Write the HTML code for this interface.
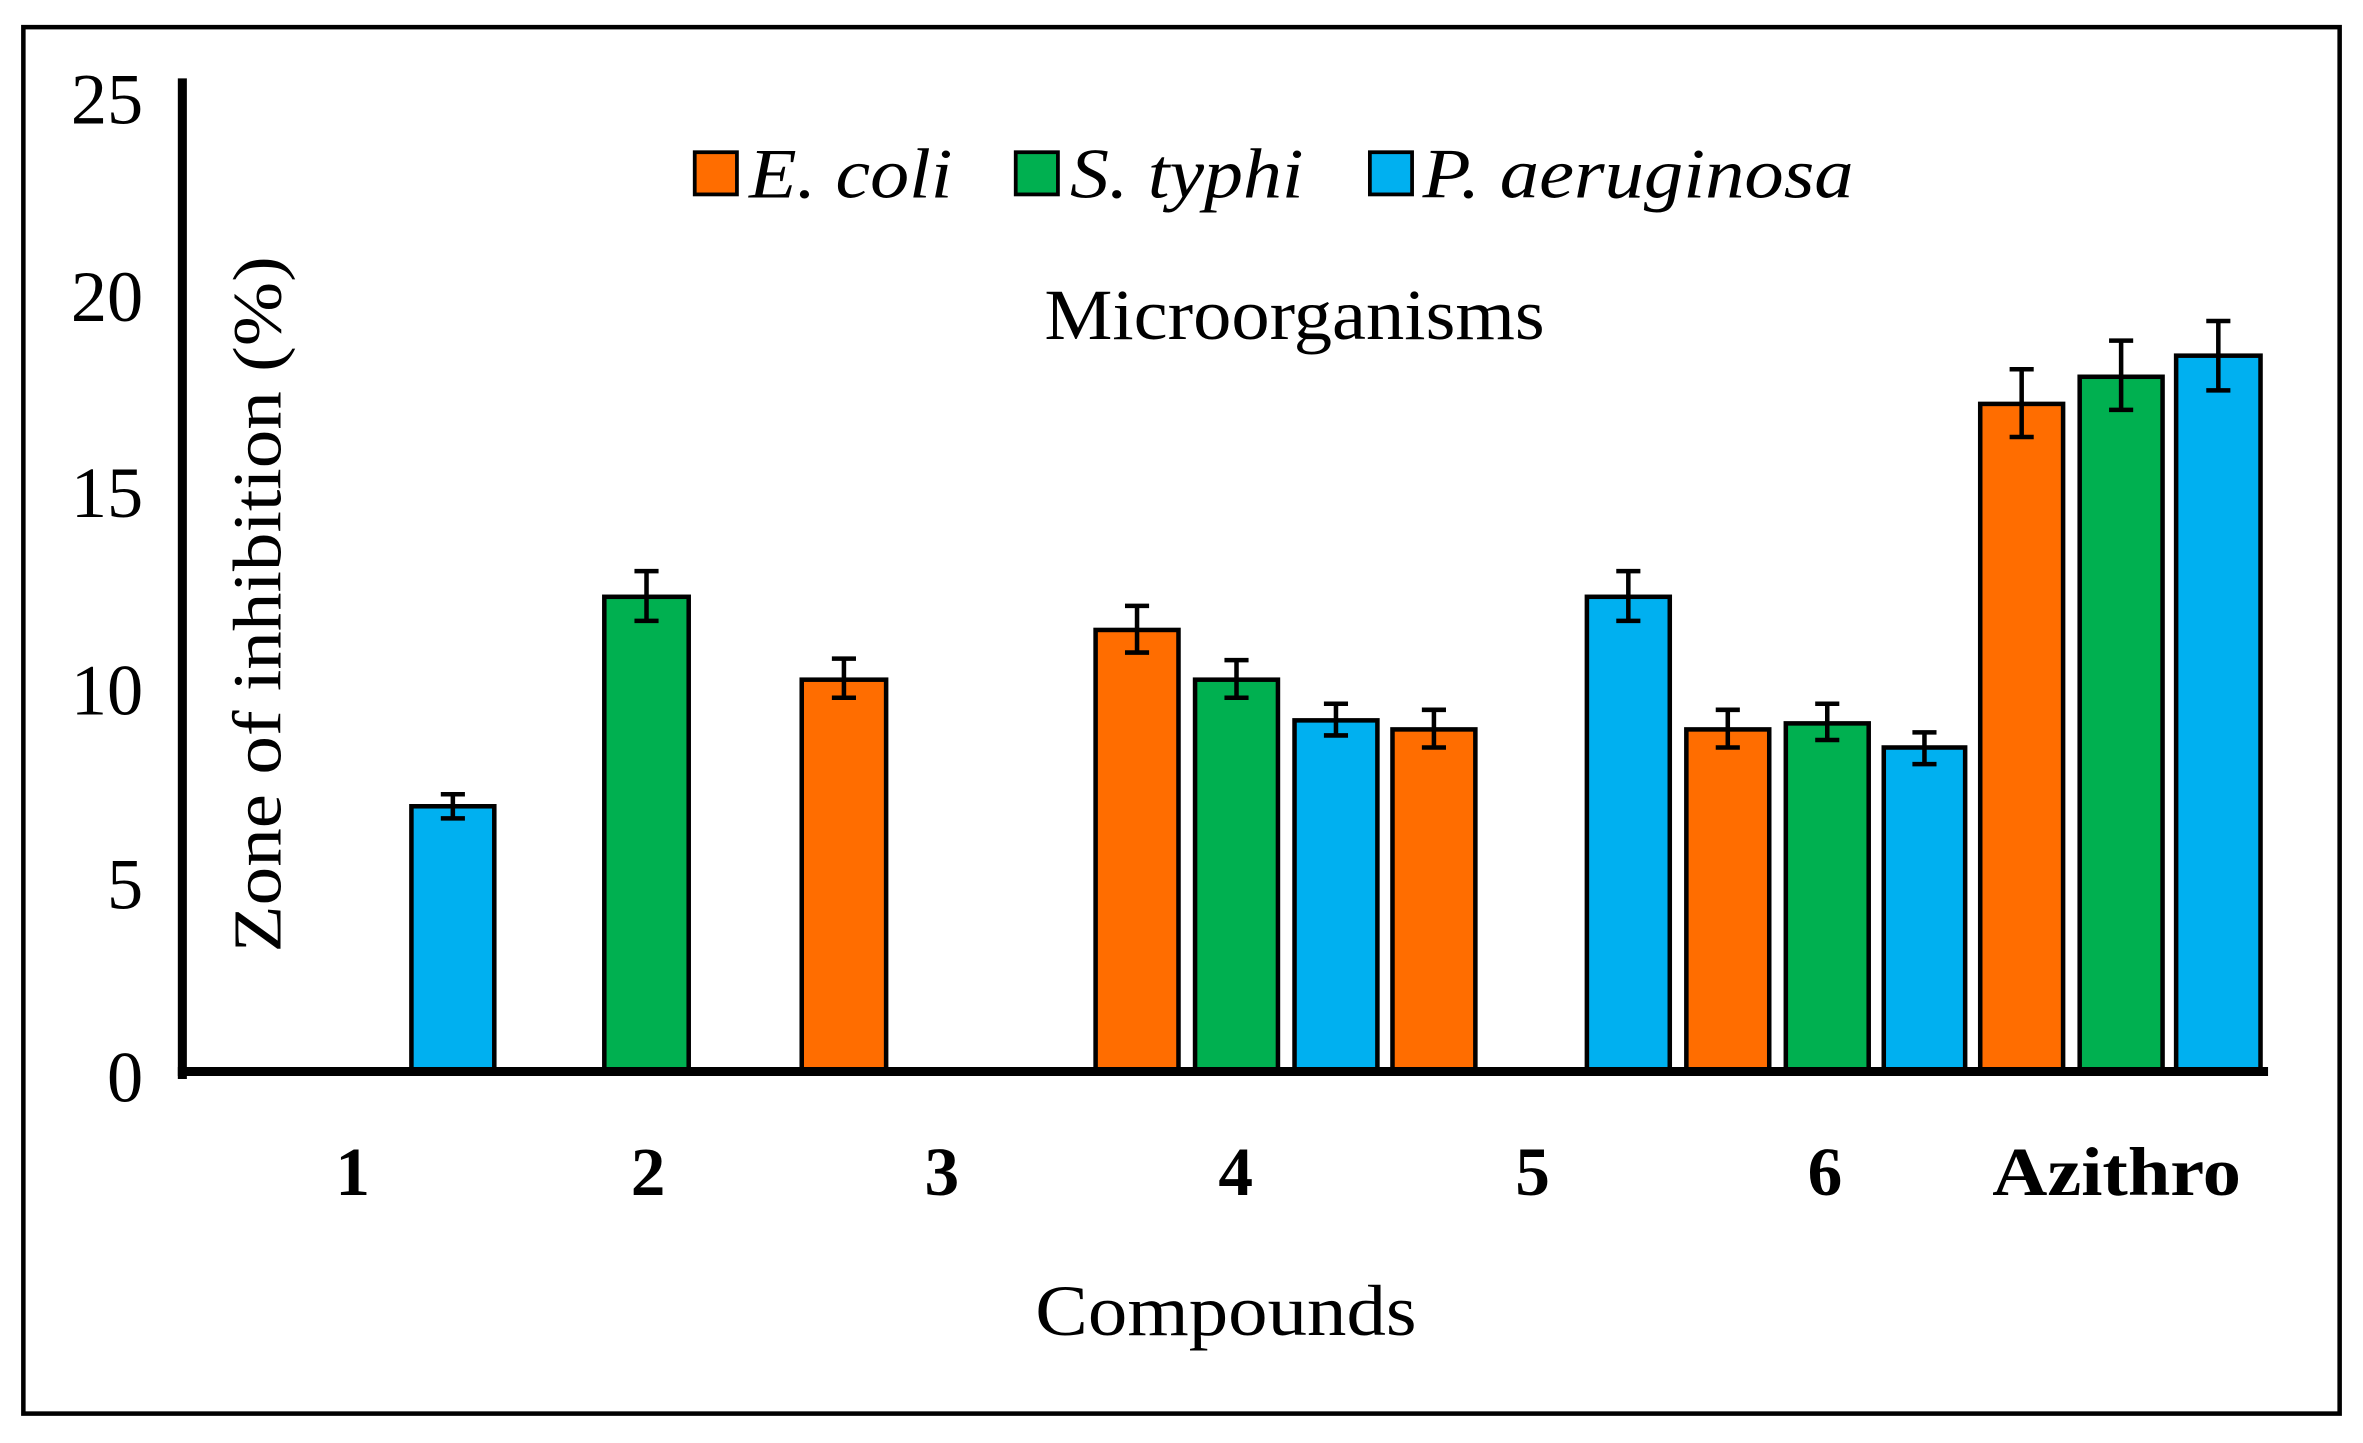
<!DOCTYPE html>
<html><head><meta charset="utf-8"><style>html,body{margin:0;padding:0;background:#fff}svg{display:block}</style></head>
<body>
<svg width="2363" height="1443" viewBox="0 0 1568 957.5" xmlns="http://www.w3.org/2000/svg" font-family="Liberation Serif, serif">
<rect x="15.5" y="18" width="1537" height="920" fill="#fff" stroke="#000" stroke-width="3"/>
<g font-size="48" text-anchor="end">
<text x="95" y="82">25</text><text x="95" y="213">20</text><text x="95" y="343">15</text>
<text x="95" y="474">10</text><text x="95" y="603">5</text><text x="95" y="731">0</text>
</g>
<text transform="translate(186,632) rotate(-90)" font-size="46" textLength="462" lengthAdjust="spacingAndGlyphs">Zone of inhibition (%)</text>
<g stroke="#000" stroke-width="3">
<rect x="273" y="535" width="55" height="176" fill="#00B0F0"/>
<rect x="401" y="396" width="56" height="315" fill="#00B050"/>
<rect x="532" y="451" width="56" height="260" fill="#FF6D00"/>
<rect x="727" y="418" width="55" height="293" fill="#FF6D00"/>
<rect x="793" y="451" width="55" height="260" fill="#00B050"/>
<rect x="859" y="478" width="55" height="233" fill="#00B0F0"/>
<rect x="924" y="484" width="55" height="227" fill="#FF6D00"/>
<rect x="1053" y="396" width="55" height="315" fill="#00B0F0"/>
<rect x="1119" y="484" width="55" height="227" fill="#FF6D00"/>
<rect x="1185" y="480" width="55" height="231" fill="#00B050"/>
<rect x="1250" y="496" width="54" height="215" fill="#00B0F0"/>
<rect x="1314" y="268" width="55" height="443" fill="#FF6D00"/>
<rect x="1380" y="250" width="55" height="461" fill="#00B050"/>
<rect x="1444" y="236" width="56" height="475" fill="#00B0F0"/>
</g>
<g stroke="#000" stroke-width="3" fill="none">
<path d="M300.5 527V543M292.5 527H308.5M292.5 543H308.5"/>
<path d="M429 379V412M421 379H437M421 412H437"/>
<path d="M560 437V463M552 437H568M552 463H568"/>
<path d="M754.5 402V433M746.5 402H762.5M746.5 433H762.5"/>
<path d="M820.5 438V463M812.5 438H828.5M812.5 463H828.5"/>
<path d="M886.5 467V488M878.5 467H894.5M878.5 488H894.5"/>
<path d="M951.5 471V496M943.5 471H959.5M943.5 496H959.5"/>
<path d="M1080.5 379V412M1072.5 379H1088.5M1072.5 412H1088.5"/>
<path d="M1146.5 471V496M1138.5 471H1154.5M1138.5 496H1154.5"/>
<path d="M1212.5 467V491M1204.5 467H1220.5M1204.5 491H1220.5"/>
<path d="M1277 486V507M1269 486H1285M1269 507H1285"/>
<path d="M1341.5 245V290M1333.5 245H1349.5M1333.5 290H1349.5"/>
<path d="M1407.5 226V272M1399.5 226H1415.5M1399.5 272H1415.5"/>
<path d="M1472 213V259M1464 213H1480M1464 259H1480"/>
</g>
<path d="M121 52V716" stroke="#000" stroke-width="6"/>
<path d="M118 711H1505" stroke="#000" stroke-width="6"/>
<g font-size="46" font-weight="bold" text-anchor="middle">
<text x="234" y="793">1</text><text x="430" y="793">2</text><text x="625" y="793">3</text>
<text x="820" y="793">4</text><text x="1017" y="793">5</text><text x="1211" y="793">6</text>
</g>
<text x="1322" y="793" font-size="46" font-weight="bold" textLength="165" lengthAdjust="spacingAndGlyphs">Azithro</text>
<text x="687" y="886" font-size="48" textLength="253" lengthAdjust="spacingAndGlyphs">Compounds</text>
<text x="693" y="225" font-size="48" textLength="332" lengthAdjust="spacingAndGlyphs">Microorganisms</text>
<g stroke="#000" stroke-width="2.5">
<rect x="461" y="101" width="28" height="28" fill="#FF6D00"/>
<rect x="674" y="101" width="28" height="28" fill="#00B050"/>
<rect x="909" y="101" width="28" height="28" fill="#00B0F0"/>
</g>
<g font-size="47" font-style="italic">
<text x="497" y="131" textLength="135" lengthAdjust="spacingAndGlyphs">E. coli</text>
<text x="710" y="131" textLength="155" lengthAdjust="spacingAndGlyphs">S. typhi</text>
<text x="944" y="131" textLength="286" lengthAdjust="spacingAndGlyphs">P. aeruginosa</text>
</g>
</svg>
</body></html>
